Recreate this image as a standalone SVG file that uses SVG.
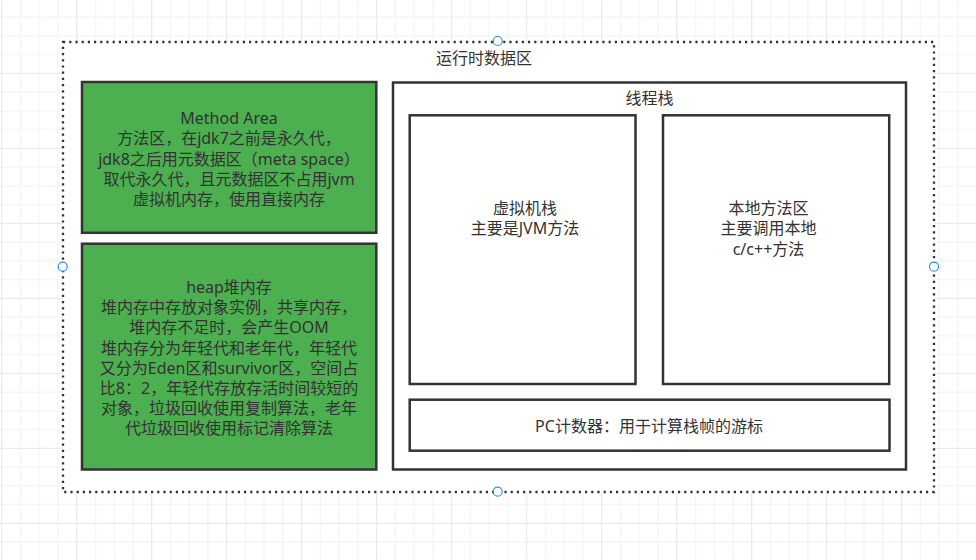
<svg xmlns="http://www.w3.org/2000/svg" width="976" height="560" viewBox="0 0 976 560">
<style>
  text { font-family: "Noto Sans", "Noto Sans CJK SC", sans-serif; font-size: 16px; fill: #333333; text-anchor: middle; }
  .box { stroke: #333333; stroke-width: 2.5; }
  .green { fill: #4CAF50; }
  .white { fill: #ffffff; }
  .handle { fill: #ffffff; stroke: #2b8cf0; stroke-width: 1.2; }
</style>
<defs>
  <pattern id="grid" patternUnits="userSpaceOnUse" x="1.2" y="-2.2" width="75" height="75">
    <path d="M19.25 0V75M38 0V75M56.75 0V75M0 19.25H75M0 38H75M0 56.75H75" stroke="#f1f1f1" stroke-width="1" fill="none"/>
    <path d="M0.5 0V75M0 0.5H75" stroke="#e6e6e6" stroke-width="1" fill="none"/>
  </pattern>
</defs>
<rect x="0" y="0" width="976" height="560" fill="#ffffff"/>
<rect x="0" y="0" width="976" height="560" fill="url(#grid)"/>

<g id="runtime-data-area">
  <rect x="63" y="42" width="871" height="450" fill="#ffffff" stroke="#333333" stroke-width="2.3" stroke-dasharray="2.2 4"/>
  <text x="484" y="64">运行时数据区</text>
</g>

<g id="method-area">
  <rect class="box green" x="82" y="82" width="294.3" height="150.8"/>
  <text x="229" y="123.5">Method Area</text>
  <text x="229" y="144">方法区，在jdk7之前是永久代，</text>
  <text x="229" y="164.5">jdk8之后用元数据区（meta space）</text>
  <text x="229" y="185">取代永久代，且元数据区不占用jvm</text>
  <text x="229" y="205">虚拟机内存，使用直接内存</text>
</g>

<g id="heap">
  <rect class="box green" x="82" y="243.7" width="294.3" height="225.8"/>
  <text x="229" y="293">heap堆内存</text>
  <text x="229" y="313.2">堆内存中存放对象实例，共享内存，</text>
  <text x="229" y="333.4">堆内存不足时，会产生OOM</text>
  <text x="229" y="353.6">堆内存分为年轻代和老年代，年轻代</text>
  <text x="229" y="373.8">又分为Eden区和survivor区，空间占</text>
  <text x="229" y="394">比8：2，年轻代存放存活时间较短的</text>
  <text x="229" y="414.2">对象，垃圾回收使用复制算法，老年</text>
  <text x="229" y="434.4">代垃圾回收使用标记清除算法</text>
</g>

<g id="thread-stack">
  <rect class="box white" x="393" y="82.5" width="513" height="387"/>
  <text x="649.5" y="103.5">线程栈</text>
</g>

<g id="vm-stack">
  <rect class="box white" x="409.7" y="115.3" width="225.8" height="268.7"/>
  <text x="525" y="214">虚拟机栈</text>
  <text x="525" y="234.3">主要是JVM方法</text>
</g>

<g id="native-method">
  <rect class="box white" x="663" y="115.3" width="226.2" height="268.7"/>
  <text x="768.5" y="214">本地方法区</text>
  <text x="768.5" y="234.3">主要调用本地</text>
  <text x="768.5" y="254.7">c/c++方法</text>
</g>

<g id="pc-register">
  <rect class="box white" x="409.7" y="399.7" width="479.8" height="51"/>
  <text x="649" y="431.5">PC计数器：用于计算栈帧的游标</text>
</g>

<g id="connectors"></g>

<g id="handles">
  <circle class="handle" cx="497.7" cy="41" r="4.5"/>
  <circle class="handle" cx="62.7" cy="266.7" r="4.5"/>
  <circle class="handle" cx="934" cy="266.7" r="4.5"/>
  <circle class="handle" cx="497.7" cy="491.7" r="4.5"/>
</g>
</svg>
